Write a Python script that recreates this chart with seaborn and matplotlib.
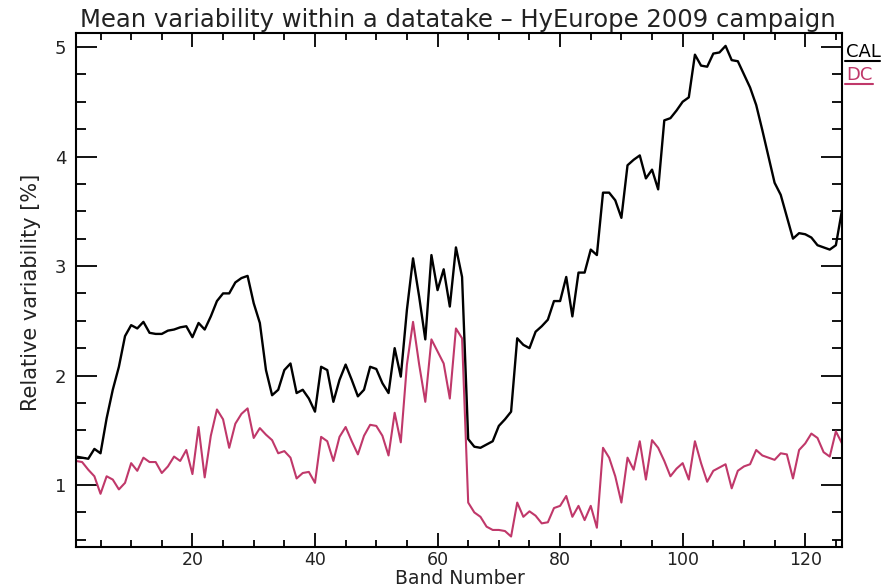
import numpy as np
import pandas as pd
import matplotlib
matplotlib.use("Agg")
import matplotlib.pyplot as plt
import seaborn as sns

bands = list(range(1, 127))

cal = [1.26, 1.25, 1.24, 1.33, 1.29, 1.61, 1.87, 2.08, 2.36, 2.46,
       2.43, 2.49, 2.39, 2.38, 2.38, 2.41, 2.42, 2.44, 2.45, 2.35,
       2.48, 2.42, 2.54, 2.68, 2.75, 2.75, 2.85, 2.89, 2.91, 2.66,
       2.48, 2.05, 1.82, 1.87, 2.05, 2.11, 1.84, 1.87, 1.79, 1.67,
       2.08, 2.05, 1.76, 1.96, 2.10, 1.96, 1.81, 1.87, 2.08, 2.06,
       1.93, 1.84, 2.25, 1.99, 2.60, 3.07, 2.72, 2.33, 3.10, 2.78,
       2.97, 2.63, 3.17, 2.90, 1.42, 1.35, 1.34, 1.37, 1.40, 1.54,
       1.60, 1.67, 2.34, 2.28, 2.25, 2.40, 2.45, 2.51, 2.68, 2.68,
       2.90, 2.54, 2.94, 2.94, 3.15, 3.10, 3.67, 3.67, 3.60, 3.44,
       3.92, 3.97, 4.01, 3.80, 3.88, 3.70, 4.33, 4.35, 4.42, 4.50,
       4.54, 4.93, 4.83, 4.82, 4.94, 4.95, 5.01, 4.88, 4.87, 4.75,
       4.63, 4.47, 4.24, 4.00, 3.76, 3.65, 3.45, 3.25, 3.30, 3.29,
       3.26, 3.19, 3.17, 3.15, 3.19, 3.51]

dc = [1.22, 1.21, 1.14, 1.08, 0.92, 1.08, 1.05, 0.96, 1.02, 1.20,
      1.13, 1.25, 1.21, 1.21, 1.11, 1.17, 1.26, 1.22, 1.32, 1.10,
      1.53, 1.07, 1.45, 1.69, 1.60, 1.34, 1.56, 1.65, 1.70, 1.43,
      1.52, 1.46, 1.41, 1.29, 1.31, 1.25, 1.06, 1.11, 1.12, 1.02,
      1.44, 1.40, 1.22, 1.44, 1.53, 1.40, 1.28, 1.45, 1.55, 1.54,
      1.45, 1.27, 1.66, 1.39, 2.10, 2.49, 2.10, 1.76, 2.33, 2.22,
      2.11, 1.79, 2.43, 2.34, 0.84, 0.75, 0.71, 0.62, 0.59, 0.59,
      0.58, 0.53, 0.84, 0.71, 0.76, 0.72, 0.65, 0.66, 0.79, 0.81,
      0.90, 0.71, 0.81, 0.68, 0.81, 0.61, 1.34, 1.25, 1.08, 0.84,
      1.25, 1.14, 1.40, 1.05, 1.41, 1.34, 1.22, 1.08, 1.15, 1.20,
      1.05, 1.40, 1.20, 1.03, 1.13, 1.16, 1.19, 0.97, 1.13, 1.17,
      1.19, 1.32, 1.27, 1.25, 1.23, 1.29, 1.28, 1.06, 1.32, 1.38,
      1.47, 1.43, 1.30, 1.26, 1.49, 1.38]

series_names = ["CAL", "DC"]
series_colors = {"CAL": "#000000", "DC": "#c0386a"}
x_ticks = [20, 40, 60, 80, 100, 120]
y_ticks = [1, 2, 3, 4, 5]

title = "Mean variability within a datatake \u2013 HyEurope 2009 campaign"
xlabel = "Band Number"
ylabel = "Relative variability [%]"

df = pd.concat([
    pd.DataFrame({"band": bands, "value": cal, "series": "CAL"}),
    pd.DataFrame({"band": bands, "value": dc, "series": "DC"}),
], ignore_index=True)

sns.set_style("ticks")
plt.rcParams["font.family"] = ["DejaVu Sans"]

W, H = 883, 588
fig = plt.figure(figsize=(W / 100, H / 100), dpi=100)
ax = fig.add_axes([76 / W, 1 - 546.7 / H, 766 / W, (546.7 - 33.3) / H])

sns.lineplot(data=df[df.series == "DC"], x="band", y="value", color=series_colors["DC"],
             linewidth=1.5, ax=ax, legend=False)
sns.lineplot(data=df[df.series == "CAL"], x="band", y="value", color=series_colors["CAL"],
             linewidth=1.7, ax=ax, legend=False)

ax.set_xlim(1, 126)
ax.set_ylim(0.437, 5.125)
ax.set_xticks(x_ticks)
ax.set_xticks(np.arange(5, 126, 5), minor=True)
ax.set_yticks(y_ticks)
ax.set_yticks(np.arange(0.5, 5.126, 0.25), minor=True)
ax.set_xlabel("")
ax.set_ylabel("")
for s in ax.spines.values():
    s.set_visible(True)
    s.set_linewidth(1.5)
    s.set_color("black")
ax.tick_params(axis="both", which="both", direction="in", top=True, right=True,
               colors="black", width=1.3, labelsize=13)
ax.tick_params(axis="x", which="major", labelsize=12.5)
ax.tick_params(axis="y", which="major", length=15, pad=7)
ax.tick_params(axis="y", which="minor", length=7)
ax.tick_params(axis="x", which="major", length=10, pad=3)
ax.tick_params(axis="x", which="minor", length=5)
for lab in ax.get_xticklabels() + ax.get_yticklabels():
    lab.set_color("#222222")

fig.text(0.518, 1 - 27 / H, title, ha="center", va="baseline", fontsize=17.5, color="#222222")
fig.text(460 / W, 0.3 / H, xlabel, ha="center", va="bottom", fontsize=13.5, color="#222222")
fig.text(31 / W, 1 - 292 / H, ylabel, ha="center", va="center", rotation=90, fontsize=15, color="#222222")

# legend at top right outside the axes
leg_pos = {"CAL": (57, 60.7, 880), "DC": (80, 84.3, 873)}
for name in series_names:
    ty, ly, lx2 = leg_pos[name]
    fig.text(846 / W, 1 - ty / H, name, ha="left", va="baseline", fontsize=13,
             color=series_colors[name])
    fig.add_artist(plt.Line2D([845 / W, lx2 / W], [1 - ly / H, 1 - ly / H],
                              color=series_colors[name], linewidth=1.5))

fig.savefig("out.png", dpi=100)
